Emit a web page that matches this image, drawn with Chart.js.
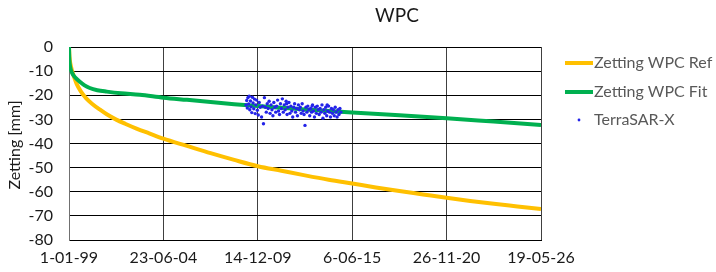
<!DOCTYPE html>
<html>
<head>
<meta charset="utf-8">
<script src="https://cdn.jsdelivr.net/npm/chart.js@4.4.0/dist/chart.umd.min.js"></script>
<style>
  html, body { margin: 0; padding: 0; background: #fff; }
  #wrap { width: 716px; height: 272px; }
</style>
</head>
<body>
<div id="wrap"><canvas id="c" width="716" height="272"></canvas></div>
<script>
// x values are days since 1-01-99, ticks every 2000 days
const xTickLabels = ['1-01-99', '23-06-04', '14-12-09', '6-06-15', '26-11-20', '19-05-26'];
const yTicks = [0, -10, -20, -30, -40, -50, -60, -70, -80];

// Zetting WPC Ref
const refDays = [0, 10, 30, 60, 100, 160, 250, 370, 500, 650, 800, 1000, 1200, 1430, 1700, 2000,
  2500, 3000, 3500, 4000, 4500, 5000, 5500, 6000, 6500, 7000, 7500, 8000, 8500, 9000, 9500, 10000];
const refValues = [0, -4, -7, -9.5, -12, -15.2, -18.4, -21.4, -23.7, -25.9, -27.9, -30.1, -31.9, -33.8, -35.8, -38,
  -41, -44, -46.8, -49.4, -51.3, -53.2, -55, -56.6, -58.2, -59.7, -61.1, -62.5, -63.8, -65, -66.1, -67.2];

// Zetting WPC Fit
const fitDays = [0, 5, 15, 40, 90, 150, 230, 330, 440, 600, 800, 1100, 1500, 2000, 2500, 3000,
  3500, 4000, 4500, 5000, 5500, 6000, 7000, 8000, 9000, 10000];
const fitValues = [0, -4, -7, -9.5, -11.6, -13, -14.4, -15.9, -17, -17.9, -18.5, -19.2, -19.8, -21, -21.9, -22.8,
  -23.7, -24.5, -25.2, -25.9, -26.5, -27.1, -28.3, -29.5, -30.9, -32.3];

// TerraSAR-X measurements
const sarDays = [3750, 3765, 3778, 3790, 3805, 3818, 3830, 3845, 3858, 3872, 3885, 3900, 3915, 3930,
  3945, 3960, 3975, 3990, 4010, 4030, 4050, 4080, 4100, 4120, 4140, 4160, 4180, 4200,
  4220, 4240, 4260, 4280, 4300, 4320, 4340, 4360, 4380, 4400, 4420, 4440, 4460, 4480, 4500, 4520, 4540,
  4560, 4580, 4600, 4620, 4640, 4660, 4680, 4700, 4720, 4740, 4760, 4780, 4800, 4820, 4840, 4860, 4880,
  4900, 4920, 4940, 4960, 4980, 5000, 5020, 5040, 5060, 5080, 5100, 5120, 5140, 5160, 5180, 5200, 5220,
  5240, 5260, 5280, 5300, 5320, 5340, 5360, 5380, 5400, 5420, 5440, 5460, 5480, 5500, 5520, 5540, 5560,
  5580, 5600, 5620, 5640, 5660, 5680, 5700, 5720, 5740, 5760, 4610, 5150, 5470];
const sarValues = [-24, -22.2, -25.3, -21, -23.6, -20.4, -26, -22.4, -24.8, -27.2, -20.8, -23.2, -25.6, -21.6,
  -27.6, -24, -22, -26.2, -28.2, -23, -25, -29, -24.5, -31.8, -21, -25, -27, -23.5, -25.5, -22.5, -27.5,
  -24, -26, -28.5, -23, -25, -27, -24.5, -22, -26.5, -28, -23.5, -25.5, -21.5, -27, -24, -26, -22.5,
  -28, -25, -23, -27.5, -24.5, -26.5, -29, -25, -23.5, -27, -25.5, -28.5, -24, -26, -25, -27.5, -23.5,
  -26.5, -28, -32.5, -25, -27, -24.5, -26, -28.5, -25.5, -27, -24, -26.5, -29, -25, -27.5, -24.5, -26,
  -28, -25.5, -27, -24, -29.5, -26, -27.5, -25, -28.5, -26.5, -24.5, -27, -29, -25.5, -27.5, -26, -28.5,
  -25, -27, -29, -26, -28, -25.5, -27, -23.5, -24.5, -24];

const FONT = 'Lato, "Open Sans", sans-serif';
const pts = (xs, ys) => xs.map((x, i) => ({ x, y: ys[i] }));

// title, y-axis title and legend drawn by hand (Excel-like placement)
const decorations = {
  id: 'decorations',
  afterDraw(chart) {
    const ctx = chart.ctx;
    ctx.save();
    ctx.fillStyle = '#1a1a1a';
    ctx.font = '19px ' + FONT;
    ctx.textAlign = 'center'; ctx.textBaseline = 'middle';
    ctx.fillText('WPC', 397, 16);

    ctx.save();
    ctx.translate(15, 145); ctx.rotate(-Math.PI / 2);
    ctx.font = '16px ' + FONT;
    ctx.fillText('Zetting [mm]', 0, 0);
    ctx.restore();

    const rows = [63, 92, 120];
    ctx.font = '16px ' + FONT;
    ctx.textAlign = 'left';
    chart.data.datasets.forEach((ds, i) => {
      const y = rows[i];
      if (ds.showLine) {
        ctx.strokeStyle = ds.borderColor; ctx.lineWidth = 4;
        ctx.beginPath(); ctx.moveTo(565, y); ctx.lineTo(593, y); ctx.stroke();
      } else {
        ctx.fillStyle = ds.backgroundColor;
        ctx.beginPath(); ctx.arc(579, y, 1.4, 0, Math.PI * 2); ctx.fill();
      }
      ctx.fillStyle = '#595959';
      ctx.fillText(ds.label, 594, y);
    });
    ctx.restore();
  }
};

new Chart(document.getElementById('c'), {
  type: 'scatter',
  data: {
    datasets: [
      { label: 'Zetting WPC Ref', data: pts(refDays, refValues), showLine: true, borderColor: '#FFC000',
        backgroundColor: '#FFC000', borderWidth: 4, pointRadius: 0, cubicInterpolationMode: 'monotone', order: 2 },
      { label: 'Zetting WPC Fit', data: pts(fitDays, fitValues), showLine: true, borderColor: '#00B050',
        backgroundColor: '#00B050', borderWidth: 4, pointRadius: 0, cubicInterpolationMode: 'monotone', order: 1 },
      { label: 'TerraSAR-X', data: pts(sarDays, sarValues), showLine: false, borderColor: '#2323e8',
        backgroundColor: '#2323e8', pointRadius: 1.7, pointBorderWidth: 0, order: 0 }
    ]
  },
  options: {
    responsive: false,
    animation: false,
    layout: { padding: { top: 47, right: 175, left: 0, bottom: 0 } },
    plugins: { legend: { display: false }, title: { display: false }, tooltip: { enabled: false } },
    scales: {
      x: {
        type: 'linear', min: 0, max: 10000,
        afterFit: s => { s.height = 32; },
        afterBuildTicks: s => { s.ticks = xTickLabels.map((_, i) => ({ value: i * 2000 })); },
        ticks: { callback: v => xTickLabels[Math.round(v / 2000)], color: '#1a1a1a', font: { family: FONT, size: 16 }, padding: 8, maxRotation: 0, autoSkip: false },
        grid: { color: '#404040', lineWidth: 1, drawTicks: false },
        border: { color: '#000', width: 1 }
      },
      y: {
        min: -80, max: 0,
        afterFit: s => { s.width = 69; },
        afterBuildTicks: s => { s.ticks = yTicks.map(v => ({ value: v })); },
        ticks: { color: '#1a1a1a', font: { family: FONT, size: 16 }, padding: 16 },
        grid: { color: '#000', lineWidth: 1, drawTicks: false },
        border: { color: '#707070', width: 1 }
      }
    }
  },
  plugins: [decorations]
});
</script>
</body>
</html>
